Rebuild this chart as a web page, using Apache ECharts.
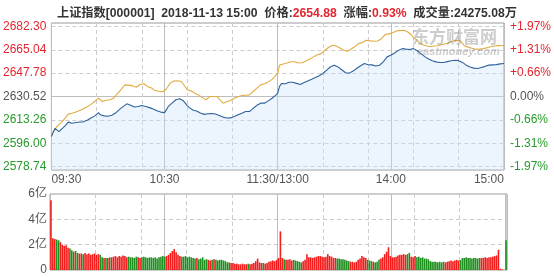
<!DOCTYPE html>
<html><head><meta charset="utf-8">
<script src="https://cdn.jsdelivr.net/npm/echarts@6/dist/echarts.min.js"></script>
<style>html,body{margin:0;padding:0;background:#fff}#c{width:554px;height:277px}</style>
</head><body><div id="c"></div>
<script>
const prevClose = 2630.52;
const priceTicks = [2578.74, 2596.00, 2613.26, 2630.52, 2647.78, 2665.04, 2682.30];
const pctLabels = ['-1.97%', '-1.31%', '-0.66%', '0.00%', '+0.66%', '+1.31%', '+1.97%'];
const volTicks = [0, 2, 4, 6];
const volLabels = ['0', '2亿', '4亿', '6亿'];
const xTickLabels = ['09:30', '10:30', '11:30/13:00', '14:00', '15:00'];
const header = { name: '上证指数[000001]', time: '2018-11-13 15:00', price: '2654.88', change: '0.93%', volume: '24275.08万' };

const indexLine = [
2601.0,2604.2,2607.0,2606.1,2604.6,2605.8,2607.2,2608.4,2609.9,2611.6,
2611.2,2610.8,2611.5,2611.3,2610.9,2611.7,2612.1,2611.8,2612.6,2612.9,
2613.3,2614.6,2615.4,2616.2,2617.5,2618.6,2617.0,2615.8,2616.2,2615.5,
2615.9,2615.8,2616.7,2617.4,2618.3,2619.6,2620.8,2621.9,2623.0,2624.2,
2625.1,2624.6,2624.0,2623.6,2622.8,2621.9,2623.1,2624.4,2623.9,2623.4,
2623.1,2622.7,2622.3,2621.9,2621.2,2620.6,2620.0,2619.4,2619.0,2618.7,
2618.6,2620.8,2623.2,2624.4,2625.6,2626.9,2628.1,2628.4,2628.8,2628.6,
2627.3,2625.6,2624.0,2622.5,2621.2,2620.6,2619.4,2619.8,2618.9,2618.3,
2617.9,2617.3,2617.0,2617.8,2618.3,2617.9,2618.4,2617.6,2617.0,2616.5,
2615.8,2615.3,2614.9,2614.6,2614.3,2614.7,2615.2,2615.8,2616.4,2617.1,
2617.8,2618.1,2618.9,2619.4,2619.0,2619.4,2620.5,2621.8,2623.1,2624.0,
2624.9,2625.6,2625.3,2625.6,2626.4,2627.3,2628.1,2629.2,2630.5,2631.5,
2633.0,2638.0,2640.1,2639.4,2639.9,2640.5,2641.0,2641.4,2641.0,2640.6,
2640.2,2639.8,2639.4,2640.0,2640.8,2641.4,2642.0,2642.6,2643.2,2643.8,
2644.5,2645.2,2645.8,2646.6,2647.5,2648.7,2650.0,2651.2,2652.5,2653.7,
2653.7,2653.0,2652.4,2651.3,2650.3,2649.3,2648.1,2647.0,2647.8,2648.6,
2649.3,2650.4,2651.4,2652.4,2653.3,2654.1,2654.9,2654.5,2654.0,2653.7,
2653.9,2653.7,2653.0,2652.4,2653.6,2654.9,2656.1,2657.9,2659.8,2660.4,
2661.0,2661.5,2662.7,2664.0,2664.6,2665.3,2665.9,2666.4,2665.5,2664.7,
2665.3,2665.6,2665.9,2665.0,2664.3,2663.5,2662.2,2661.0,2660.0,2659.1,
2658.2,2657.4,2657.0,2656.5,2656.1,2655.9,2655.7,2655.5,2655.6,2655.9,
2656.3,2656.6,2656.9,2657.1,2657.3,2657.4,2657.0,2656.6,2655.7,2654.7,
2653.7,2653.0,2652.3,2651.7,2651.5,2651.3,2651.2,2651.6,2652.0,2652.4,
2652.8,2653.3,2653.7,2653.8,2653.9,2654.0,2654.1,2654.4,2654.6,2654.9,
2654.88];

const leadLine = [
2601.0,2604.0,2606.5,2608.4,2609.8,2611.0,2612.1,2613.9,2615.8,2617.5,
2617.6,2618.2,2618.7,2619.0,2619.6,2620.2,2620.7,2621.4,2622.1,2622.9,
2623.6,2624.7,2625.8,2626.8,2628.1,2629.3,2628.0,2626.8,2627.3,2627.8,
2628.1,2628.1,2628.6,2629.3,2630.9,2632.6,2634.2,2635.8,2637.5,2639.1,
2639.3,2638.9,2638.6,2638.4,2637.9,2637.4,2638.4,2639.4,2640.4,2639.9,
2639.1,2637.9,2637.9,2636.9,2635.9,2634.9,2634.6,2634.4,2634.2,2634.0,
2634.2,2636.1,2638.3,2640.4,2641.2,2641.9,2642.3,2642.2,2641.9,2641.6,
2639.6,2637.5,2635.5,2635.5,2634.7,2633.8,2633.0,2633.0,2631.7,2630.5,
2629.7,2628.9,2628.1,2629.3,2630.5,2630.8,2630.5,2630.7,2630.5,2628.8,
2627.2,2625.6,2626.1,2626.6,2627.1,2627.6,2628.4,2629.2,2630.0,2630.4,
2630.9,2631.3,2631.7,2631.5,2631.9,2631.7,2633.0,2634.2,2635.5,2636.7,
2637.9,2639.1,2639.5,2640.0,2640.4,2641.3,2642.3,2643.2,2644.1,2646.0,
2648.0,2653.7,2654.1,2654.5,2654.9,2655.3,2655.8,2656.2,2656.6,2656.2,
2655.7,2655.3,2654.9,2655.5,2656.2,2656.8,2657.4,2658.2,2659.0,2659.8,
2660.6,2661.4,2662.2,2662.2,2663.4,2664.7,2665.9,2666.7,2667.6,2668.4,
2668.4,2667.8,2667.2,2666.4,2665.5,2664.7,2664.3,2664.0,2664.8,2665.6,
2666.4,2667.5,2668.5,2669.6,2669.6,2670.4,2671.3,2672.1,2671.9,2671.6,
2671.4,2671.4,2671.5,2671.5,2671.6,2673.2,2674.7,2676.3,2676.3,2676.8,
2677.2,2677.7,2678.4,2679.0,2679.1,2679.3,2679.4,2679.5,2678.8,2678.2,
2677.5,2676.0,2674.0,2674.0,2672.2,2670.5,2669.6,2668.8,2668.0,2667.8,
2667.6,2667.5,2667.7,2667.8,2668.0,2668.0,2668.4,2668.7,2669.0,2669.5,
2670.0,2670.5,2671.0,2671.5,2672.0,2672.0,2671.5,2671.5,2669.8,2668.0,
2667.5,2667.0,2666.5,2666.2,2665.8,2665.5,2665.5,2665.4,2665.5,2665.9,
2666.3,2666.6,2667.0,2667.3,2667.5,2667.8,2668.0,2668.1,2668.1,2668.2,
2668.2];

// volume in 亿
const volume = [
5.5,2.5,2.45,2.4,2.35,2.2,2.0,1.9,1.95,1.75,
1.7,1.55,1.45,1.5,1.35,1.3,1.3,1.25,1.35,1.25,
1.3,1.2,1.25,1.3,1.2,1.25,1.2,1.0,0.95,0.95,
0.95,1.0,1.0,1.05,1.1,1.0,1.1,1.05,1.15,1.1,
1.0,1.05,1.0,1.0,0.95,1.05,1.0,0.95,1.0,1.05,
1.0,0.95,1.0,1.0,0.95,1.0,0.9,1.0,1.05,1.1,
1.05,1.1,1.2,1.35,1.5,1.65,1.4,1.2,1.1,1.05,
1.05,1.1,1.0,1.05,1.0,0.95,0.9,0.95,0.85,0.9,
1.0,0.8,0.85,0.8,0.75,0.8,0.85,0.8,0.75,0.8,
0.8,0.75,0.7,0.6,0.6,0.55,0.55,0.5,0.5,0.45,
0.45,0.5,0.45,0.45,0.5,0.45,0.5,0.55,0.7,0.9,
0.6,0.55,0.55,0.5,0.55,0.65,0.7,0.75,0.7,0.8,
0.95,3.05,0.95,0.85,0.8,0.8,0.85,0.75,0.8,0.75,
0.7,0.65,0.6,0.7,0.8,1.25,1.0,1.0,0.95,1.0,
1.05,1.1,1.1,1.05,1.0,1.05,1.25,1.1,1.05,0.95,
0.95,0.9,0.9,0.85,0.85,0.8,0.75,0.7,0.65,0.65,
0.6,0.65,0.8,0.9,1.1,1.0,0.95,0.8,0.75,0.7,
0.65,0.6,0.65,0.8,0.9,1.0,1.25,1.45,1.8,1.1,
1.0,1.0,1.05,1.15,1.2,1.2,1.25,1.2,1.25,1.35,
1.05,1.0,1.1,1.0,1.05,0.95,1.0,0.9,0.9,0.85,
0.7,0.65,0.65,0.65,0.6,0.65,0.6,0.65,0.6,0.65,
0.7,0.75,0.7,0.75,0.8,0.75,0.8,0.95,0.95,1.0,
0.95,0.95,0.9,0.95,0.95,0.9,0.95,0.95,0.95,1.0,
0.95,1.0,1.0,1.05,1.1,1.15,1.6,0.1,0.05,0,
2.35];

// minute categories: 09:30-11:30, 13:01-15:00
const times = [];
function pad(n){return (n<10?'0':'')+n;}
for (let m = 9*60+30; m <= 11*60+30; m++) times.push(pad(Math.floor(m/60))+':'+pad(m%60));
for (let m = 13*60+1; m <= 15*60; m++) times.push(pad(Math.floor(m/60))+':'+pad(m%60));

const RED = '#e3262f', GREEN = '#279a2b', GRAY = '#555';
const FONT = '"Liberation Sans", Arial, "Noto Sans CJK SC", sans-serif';
const dashed = { color: '#cccccc', type: [4, 3], width: 1 };
const solid = { color: '#bdbdbd', type: 'solid', width: 1 };

function tickIndex(v){
  let best = 0, d = Infinity;
  priceTicks.forEach((t, i) => { if (Math.abs(t - v) < d) { d = Math.abs(t - v); best = i; } });
  return best;
}
function priceColor(v){
  const t = priceTicks[tickIndex(v)];
  return t > prevClose + 0.01 ? RED : (t < prevClose - 0.01 ? GREEN : GRAY);
}

const pad0 = (priceTicks[1] - priceTicks[0]) * 0.147;
const yMin = priceTicks[0] - pad0, yMax = priceTicks[priceTicks.length - 1] + pad0;

const volData = volume.map((v, i) => ({
  value: v,
  itemStyle: { color: (i === 0 || indexLine[i] >= indexLine[i - 1]) ? '#f31d1d' : '#1f8f1f' }
}));

const chart = echarts.init(document.getElementById('c'), null, { renderer: 'canvas' });
chart.setOption({
  animation: false,
  textStyle: { fontFamily: FONT },
  title: {
    left: 52, top: 3,
    text: '{a|' + header.name + '  ' + header.time + '  价格:}{r|' + header.price + '}{a|  涨幅:}{r|' + header.change + '}{a|  成交量:' + header.volume + '}',
    textStyle: {
      rich: {
        a: { fontSize: 12.2, color: '#333', fontFamily: FONT },
        r: { fontSize: 12.2, color: RED, fontFamily: FONT }
      }
    }
  },
  graphic: [
    { type: 'text', left: 412, top: 28, z: 100, silent: true,
      style: { text: '东方财富网', fontSize: 17, fontWeight: 'bold', fill: 'rgba(120,120,120,0.38)', fontFamily: '"Noto Sans CJK SC", sans-serif' } },
    { type: 'text', left: 417, top: 46, z: 100, silent: true,
      style: { text: 'eastmoney.com', fontSize: 11, fontStyle: 'italic', fontWeight: 'bold', fill: 'rgba(120,120,120,0.38)', fontFamily: FONT } }
  ],
  grid: [
    { left: 50, right: 47, top: 23, height: 147, show: true, borderColor: '#9a9a9a', borderWidth: 1, backgroundColor: 'transparent' },
    { left: 50, right: 47, top: 194, height: 76, show: true, borderColor: '#9a9a9a', borderWidth: 1, backgroundColor: 'transparent' }
  ],
  xAxis: [
    { gridIndex: 0, type: 'category', data: times, boundaryGap: false,
      axisLine: { show: false }, axisTick: { show: false },
      axisLabel: { show: true, interval: (i) => i % 60 === 0, formatter: (v, i) => xTickLabels[Math.round(i / 60)],
        color: GRAY, fontSize: 12, margin: 4, alignMinLabel: 'left', alignMaxLabel: 'right', fontFamily: FONT },
      splitLine: { show: true, interval: (i) => i % 24 === 0, lineStyle: dashed } },
    { gridIndex: 0, type: 'category', data: times, boundaryGap: false, position: 'bottom',
      axisLine: { show: false }, axisTick: { show: false }, axisLabel: { show: false },
      splitLine: { show: true, interval: (i) => i % 60 === 0, lineStyle: solid } },
    { gridIndex: 1, type: 'category', data: times, boundaryGap: true,
      axisLine: { show: false }, axisTick: { show: false }, axisLabel: { show: false },
      splitLine: { show: true, interval: (i) => i % 24 === 0, lineStyle: dashed } },
    { gridIndex: 1, type: 'category', data: times, boundaryGap: true, position: 'bottom',
      axisLine: { show: false }, axisTick: { show: false }, axisLabel: { show: false },
      splitLine: { show: true, interval: (i) => i % 60 === 0, lineStyle: solid } }
  ],
  yAxis: [
    { gridIndex: 0, type: 'value', position: 'left', min: yMin, max: yMax, scale: true,
      axisLine: { show: false }, axisTick: { show: false, customValues: priceTicks },
      axisLabel: { customValues: priceTicks, formatter: (v) => priceTicks[tickIndex(v)].toFixed(2),
        color: (v) => priceColor(v), fontSize: 12, margin: 5, fontFamily: FONT },
      splitLine: { show: true, lineStyle: dashed } },
    { gridIndex: 0, type: 'value', position: 'right', min: yMin, max: yMax, scale: true,
      axisLine: { show: false }, axisTick: { show: false, customValues: [prevClose] },
      axisLabel: { customValues: priceTicks, formatter: (v) => pctLabels[tickIndex(v)],
        color: (v) => priceColor(v), fontSize: 12, margin: 6, fontFamily: FONT },
      splitLine: { show: true, lineStyle: solid } },
    { gridIndex: 1, type: 'value', min: volTicks[0], max: volTicks[volTicks.length - 1], interval: 2,
      axisLine: { show: false }, axisTick: { show: false },
      axisLabel: { formatter: (v) => volLabels[volTicks.indexOf(Math.round(v))], color: GRAY, fontSize: 12, margin: 3, fontFamily: FONT },
      splitLine: { show: true, lineStyle: dashed } }
  ],
  series: [
    { name: '上证指数', type: 'line', xAxisIndex: 0, yAxisIndex: 0, data: indexLine,
      showSymbol: false, smooth: false, z: 4,
      lineStyle: { color: '#2f629e', width: 1.1 },
      areaStyle: { color: 'rgba(200,228,250,0.5)', origin: 'start' } },
    { name: '领先指标', type: 'line', xAxisIndex: 0, yAxisIndex: 0, data: leadLine,
      showSymbol: false, smooth: false, z: 3,
      lineStyle: { color: '#e2ab3f', width: 1.1 } },
    { name: '成交量', type: 'bar', xAxisIndex: 2, yAxisIndex: 2, data: volData,
      barCategoryGap: '15%' }
  ]
});
</script>
</body></html>
